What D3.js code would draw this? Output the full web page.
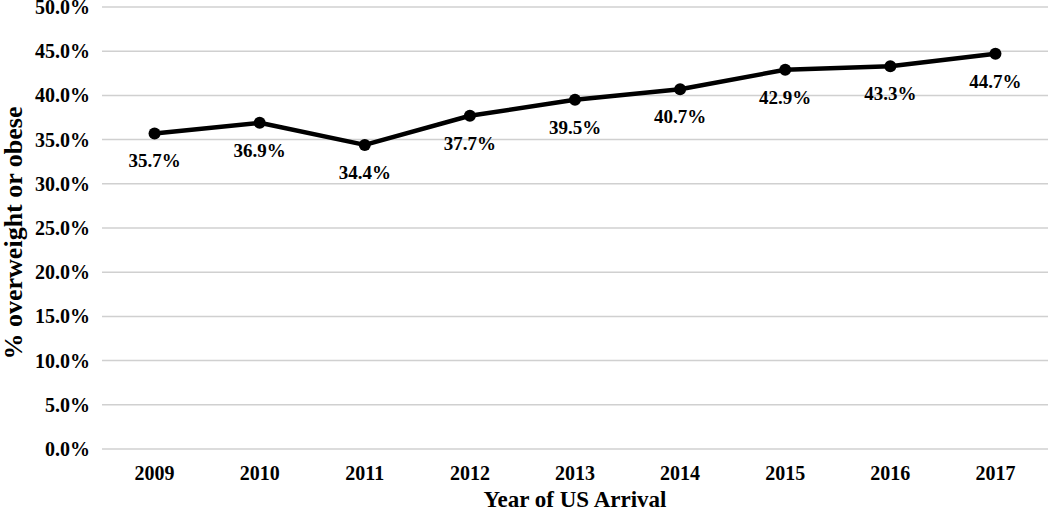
<!DOCTYPE html>
<html><head><meta charset="utf-8">
<script src="https://cdn.jsdelivr.net/npm/d3@7"></script>
<style>body{margin:0;background:#fff}svg{display:block}</style>
</head><body>
<svg id="c" width="1050" height="511"></svg>
<script>
const years = ["2009","2010","2011","2012","2013","2014","2015","2016","2017"];
const values = [35.7,36.9,34.4,37.7,39.5,40.7,42.9,43.3,44.7];
const yTicks = [0,5,10,15,20,25,30,35,40,45,50];

(function(){
const svg = d3.select("#c");
const font = "'Liberation Serif','Times New Roman',serif";
const mL = 102, mR = 1048, mT = 7, mB = 449;
const x = d3.scaleBand().domain(years).range([mL, mR]);
const y = d3.scaleLinear().domain([0,50]).range([mB, mT]);

svg.append("g").selectAll("line").data(yTicks).join("line")
  .attr("x1", mL).attr("x2", mR)
  .attr("y1", d=>y(d)).attr("y2", d=>y(d))
  .attr("stroke", "#d0d0d0").attr("stroke-width", 1.5);

const ya = svg.append("g").attr("transform", `translate(${mL},0)`)
  .call(d3.axisLeft(y).tickValues(yTicks).tickFormat(d=>d.toFixed(1)+"%").tickSize(0).tickPadding(12));
ya.select(".domain").remove();
ya.selectAll("text").attr("font-family", font).attr("font-weight","bold").attr("font-size", 20).attr("fill","#000");

const xa = svg.append("g").attr("transform", `translate(0,${mB})`)
  .call(d3.axisBottom(x).tickSize(0).tickPadding(17));
xa.select(".domain").remove();
xa.selectAll("text").attr("font-family", font).attr("font-weight","bold").attr("font-size", 20).attr("fill","#000");

const cx = d => x(d) + x.bandwidth()/2;
const data = years.map((yr,i)=>({yr, v: values[i]}));

svg.append("path").datum(data)
  .attr("d", d3.line().x(d=>cx(d.yr)).y(d=>y(d.v)))
  .attr("fill","none").attr("stroke","#000").attr("stroke-width",4.5).attr("stroke-linejoin","round");

svg.append("g").selectAll("circle").data(data).join("circle")
  .attr("cx", d=>cx(d.yr)).attr("cy", d=>y(d.v)).attr("r", 6).attr("fill","#000");

svg.append("g").selectAll("text").data(data).join("text")
  .attr("x", d=>cx(d.yr)).attr("y", d=>y(d.v)+34)
  .attr("text-anchor","middle")
  .attr("font-family", font).attr("font-weight","bold").attr("font-size", 19)
  .text(d=>d.v.toFixed(1)+"%");

svg.append("text").attr("x", (mL+mR)/2).attr("y", 507)
  .attr("text-anchor","middle").attr("font-family", font).attr("font-weight","bold").attr("font-size", 23)
  .text("Year of US Arrival");

svg.append("text").attr("transform", `translate(22,233) rotate(-90)`)
  .attr("text-anchor","middle").attr("font-family", font).attr("font-weight","bold").attr("font-size", 26)
  .text("% overweight or obese");
})();
</script>
</body></html>
